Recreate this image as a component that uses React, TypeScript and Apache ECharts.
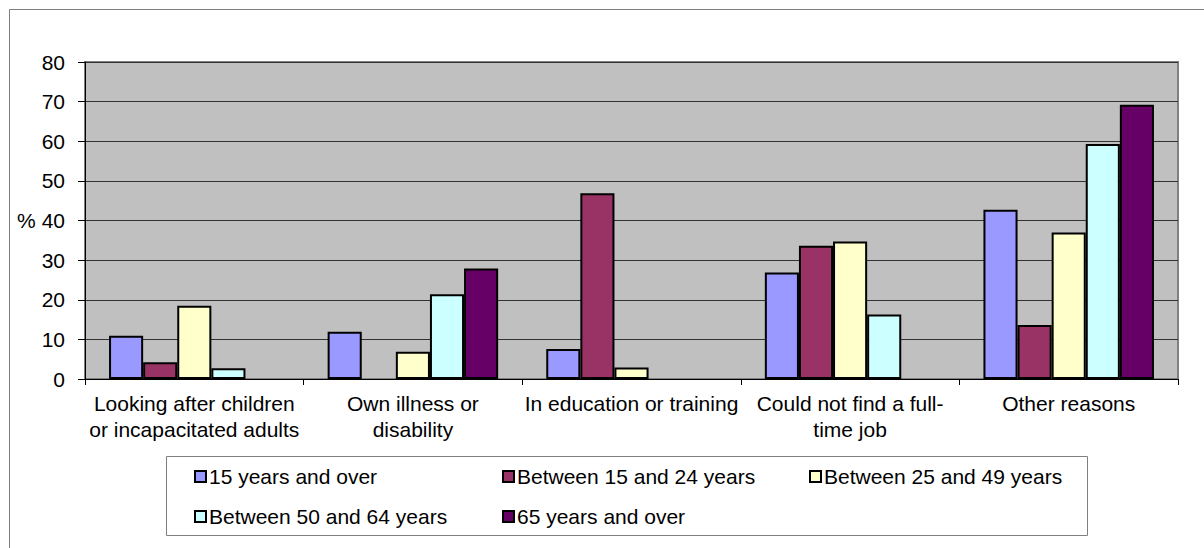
import React, { useEffect, useRef } from "react";
import * as echarts from "echarts";

const categories = [
  "Looking after children\nor incapacitated adults",
  "Own illness or\ndisability",
  "In education or training",
  "Could not find a full-\ntime job",
  "Other reasons",
];
const seriesNames = [
  "15 years and over",
  "Between 15 and 24 years",
  "Between 25 and 49 years",
  "Between 50 and 64 years",
  "65 years and over",
];
const s15Over = [10.9, 11.9, 7.6, 26.9, 42.7];
const s15to24 = [4.2, null, 46.9, 33.6, 13.6];
const s25to49 = [18.5, 6.9, 2.9, 34.7, 37.0];
const s50to64 = [2.7, 21.4, null, 16.3, 59.3];
const s65Over = [null, 27.9, null, null, 69.2];
const yTicks = [0, 10, 20, 30, 40, 50, 60, 70, 80];

const colors = ["#9999FF", "#993366", "#FFFFCC", "#CCFFFF", "#660066"];
const FONT = "Liberation Sans, Arial, sans-serif";

export default function App() {
  const ref = useRef<HTMLDivElement>(null);
  useEffect(() => {
    if (!ref.current) return;
    const chart = echarts.init(ref.current, null, { renderer: "svg" });
    const allData = [s15Over, s15to24, s25to49, s50to64, s65Over];
    const legendPos = [
      [194, 466],
      [502, 466],
      [809, 466],
      [194, 506],
      [502, 506],
    ];
    chart.setOption({
      animation: false,
      backgroundColor: "#fff",
      textStyle: { fontFamily: FONT },
      grid: {
        left: 85,
        top: 62,
        right: 26,
        bottom: 169,
        show: true,
        backgroundColor: "#C0C0C0",
        borderColor: "#808080",
        borderWidth: 2,
      },
      legend: seriesNames.map((n, i) => ({
        data: [n],
        left: legendPos[i][0],
        top: legendPos[i][1],
        padding: 0,
        icon: "rect",
        itemWidth: 11,
        itemHeight: 11,
        selectedMode: false,
        itemStyle: { borderColor: "#000", borderWidth: 2 },
        textStyle: { fontSize: 21, color: "#000", fontFamily: FONT, padding: [0, 0, 0, -2] },
      })),
      xAxis: {
        type: "category",
        data: categories,
        axisLine: { lineStyle: { color: "#000", width: 1 } },
        axisTick: { show: true, length: 6, lineStyle: { color: "#000" } },
        axisLabel: {
          interval: 0,
          fontSize: 21,
          lineHeight: 26,
          color: "#000",
          margin: 11,
          fontFamily: FONT,
        },
        splitLine: { show: false },
      },
      yAxis: {
        type: "value",
        min: 0,
        max: 80,
        interval: 10,
        name: "%",
        nameLocation: "middle",
        nameRotate: 0,
        nameGap: 49,
        nameTextStyle: { fontSize: 21, color: "#000", fontFamily: FONT },
        axisLine: { show: true, lineStyle: { color: "#000", width: 1 } },
        axisTick: { show: true, length: 7, lineStyle: { color: "#000" } },
        axisLabel: {
          fontSize: 21,
          color: "#000",
          margin: 20,
          fontFamily: FONT,
          formatter: (v: number) => (yTicks.includes(v) ? String(v) : ""),
        },
        splitLine: { show: true, lineStyle: { color: "#333", width: 1 } },
      },
      series: seriesNames.map((n, i) => ({
        name: n,
        type: "bar",
        data: allData[i],
        barGap: "0%",
        barCategoryGap: "22%",
        itemStyle: { color: colors[i], borderColor: "#000", borderWidth: 2 },
      })),
      graphic: [
        {
          type: "rect",
          shape: { x: 9.5, y: 9.5, width: 1200, height: 600 },
          style: { fill: "none", stroke: "#7f7f7f", lineWidth: 1 },
          silent: true,
          z: -10,
        },
        {
          type: "rect",
          shape: { x: 166.5, y: 456.5, width: 921, height: 79 },
          style: { fill: "none", stroke: "#808080", lineWidth: 1 },
          silent: true,
          z: -10,
        },
      ],
    });
    return () => chart.dispose();
  }, []);
  return (
    <div
      ref={ref}
      style={{ position: "fixed", left: 0, top: 0, width: 1204, height: 548 }}
    />
  );
}
